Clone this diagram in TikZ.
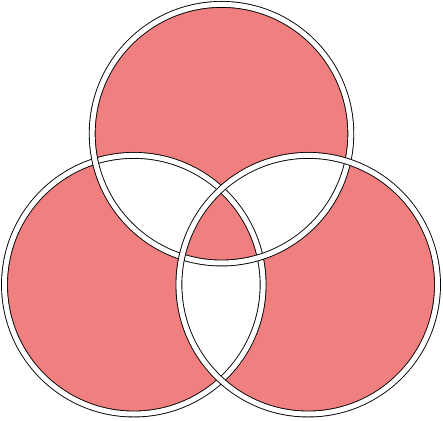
\documentclass[tikz,border=0pt]{standalone}
\definecolor{setfill}{RGB}{240,128,128}
\newcommand*{\rad}{129.3}
\begin{document}
\begin{tikzpicture}[x=1pt,y=1pt,
    ring/.style={draw=black,double=white,line width=0.9pt,double distance=5pt}]
  \useasboundingbox (0,0) rectangle (443,420);
  \coordinate (left) at (133.8,135.3);
  \coordinate (top) at (221.5,286.3);
  \coordinate (right) at (308.2,135.3);
  % odd regions filled
  \fill[setfill,even odd rule] (left) circle[radius=\rad]
    (top) circle[radius=\rad] (right) circle[radius=\rad];
  \foreach \c in {left,top,right}{
    \draw[ring] (\c) circle[radius=\rad];
  }
\end{tikzpicture}
\end{document}
